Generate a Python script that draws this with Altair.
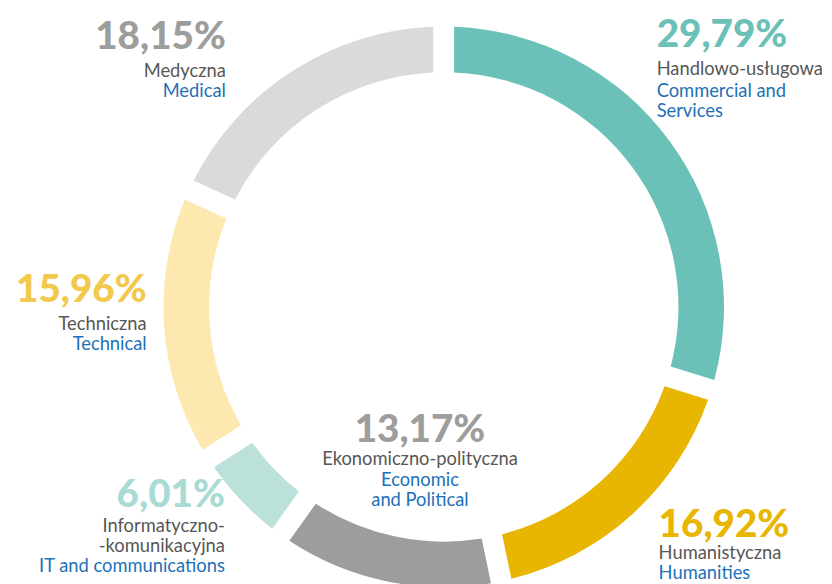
import altair as alt
import pandas as pd

# ---- data ----
categories_pl = ["Handlowo-usługowa", "Humanistyczna", "Ekonomiczno-polityczna",
                 "Informatyczno-|-komunikacyjna", "Techniczna", "Medyczna"]
categories_en = ["Commercial and|Services", "Humanities", "Economic|and Political",
                 "IT and communications", "Technical", "Medical"]
values = [29.79, 16.92, 13.17, 6.01, 15.96, 18.15]
value_labels = ["29,79%", "16,92%", "13,17%", "6,01%", "15,96%", "18,15%"]

# ---- styles ----
segment_colors = ["#6BC1B7", "#E8B500", "#9D9D9C", "#BCE0DA", "#FDE9B0", "#DADADA"]
pct_colors = ["#6BC1B7", "#E8B500", "#9D9D9C", "#A8DBD4", "#F2C94C", "#9D9D9C"]
pl_color = "#575756"
en_color = "#1D71B8"

# ---- label layout (chart pixel coords): x, align, pct baseline, line baselines ----
label_layout = [
    (655, "left", 37, [65, 87, 107]),
    (657, "left", 531, [554, 574]),
    (416, "center", 435, [459, 480, 500]),
    (219, "right", 501, [526, 547, 567]),
    (140, "right", 294, [322, 343]),
    (220, "right", 39, [67, 87]),
]

W, H = 824, 576
CX, CY = 440, 299

arc_df = pd.DataFrame({
    "idx": list(range(len(values))),
    "cat": [c.replace("|", " ") for c in categories_pl],
    "value": values,
})

rows = []
for i, (x, align, py, lines) in enumerate(label_layout):
    rows.append(dict(t=value_labels[i], x=x, y=py, c=pct_colors[i], al=align, kind="pct"))
    txt_lines = [(s, pl_color) for s in categories_pl[i].split("|")] + \
                [(s, en_color) for s in categories_en[i].split("|")]
    for (s, col), ly in zip(txt_lines, lines):
        rows.append(dict(t=s, x=x, y=ly, c=col, al=align, kind="txt"))
text_df = pd.DataFrame(rows)

donut = alt.Chart(arc_df).mark_arc(
    outerRadius=283, innerRadius=237, padAngle=0.057
).encode(
    theta=alt.Theta("value:Q", stack=True, scale=alt.Scale(range=[0, 6.283185307])),
    order=alt.Order("idx:Q"),
    color=alt.Color("cat:N", scale=alt.Scale(domain=list(arc_df["cat"]), range=segment_colors), legend=None),
    x=alt.value(CX),
    y=alt.value(CY),
)

layers = [donut]
for align in ["left", "right", "center"]:
    for kind in ["pct", "txt"]:
        sub = text_df[(text_df.al == align) & (text_df.kind == kind)]
        if len(sub) == 0:
            continue
        if kind == "pct":
            mk = alt.Chart(sub).mark_text(align=align, baseline="alphabetic", font="Lato",
                                          fontSize=39, fontWeight=900)
        else:
            mk = alt.Chart(sub).mark_text(align=align, baseline="alphabetic", font="Lato",
                                          fontSize=18.5)
        layers.append(mk.encode(
            x=alt.X("x:Q", scale=None),
            y=alt.Y("y:Q", scale=None),
            text="t:N",
            color=alt.Color("c:N", scale=None),
        ))

chart = alt.layer(*layers).properties(
    width=W, height=H, padding=0, autosize=alt.AutoSizeParams(type="none")
).configure_view(stroke=None)

chart.save("out.html", embed_options={"renderer": "svg", "actions": False})
